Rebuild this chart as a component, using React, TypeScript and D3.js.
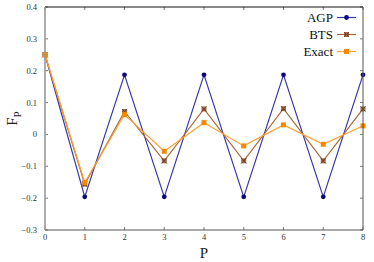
import React from 'react'
import * as d3 from 'd3'

const P = [0, 1, 2, 3, 4, 5, 6, 7, 8]
const AGP = [0.25, -0.196, 0.187, -0.196, 0.187, -0.196, 0.187, -0.196, 0.187]
const BTS = [0.25, -0.156, 0.072, -0.083, 0.08, -0.083, 0.081, -0.083, 0.08]
const EXACT = [0.25, -0.151, 0.062, -0.053, 0.037, -0.036, 0.03, -0.031, 0.027]
const Y_TICKS = [-0.3, -0.2, -0.1, 0, 0.1, 0.2, 0.3, 0.4]

const SERIES = [
  { name: 'AGP', values: AGP, line: '#3838a8', mark: '#0a0a80', shape: 'circle' },
  { name: 'BTS', values: BTS, line: '#a8673a', mark: '#7a3f1c', shape: 'cross' },
  { name: 'Exact', values: EXACT, line: '#ffa030', mark: '#f58a00', shape: 'square' },
]

const W = 374
const H = 262
const M = { top: 7, right: 11, bottom: 32, left: 45 }
const FONT = '"Liberation Serif", "DejaVu Serif", serif'

function fmt(v: number) {
  if (v === 0) return '0'
  return d3.format('.1f')(v).replace('-', '\u2212')
}

function Marker({ shape, x, y, color }: { shape: string; x: number; y: number; color: string }) {
  if (shape === 'circle') return <circle cx={x} cy={y} r={2.4} fill={color} />
  if (shape === 'square') return <rect x={x - 2.5} y={y - 2.5} width={5} height={5} fill={color} />
  return (
    <g>
      <rect x={x - 2.5} y={y - 2.5} width={5} height={5} fill={color} opacity={0.75} />
      <path d={`M${x - 2.5},${y - 2.5}L${x + 2.5},${y + 2.5}M${x - 2.5},${y + 2.5}L${x + 2.5},${y - 2.5}`} stroke={color} strokeWidth={1} />
    </g>
  )
}

export default function App() {
  const x = d3.scaleLinear().domain([0, 8]).range([M.left, W - M.right])
  const y = d3.scaleLinear().domain([-0.3, 0.4]).range([H - M.bottom, M.top])
  const line = d3.line<number>().x((_, i) => x(P[i])).y((d) => y(d))
  const x0 = x.range()[0]
  const x1 = x.range()[1]
  const y0 = y.range()[0]
  const y1 = y.range()[1]

  return (
    <svg width={W} height={H} style={{ position: 'absolute', left: 0, top: 0, background: '#fff' }} fontFamily={FONT}>
      {/* ticks */}
      {P.map((p) => (
        <g key={'xt' + p} stroke="#555" strokeWidth={0.8}>
          <line x1={x(p)} x2={x(p)} y1={y0} y2={y0 - 3} />
          <line x1={x(p)} x2={x(p)} y1={y1} y2={y1 + 3} />
        </g>
      ))}
      {Y_TICKS.map((t) => (
        <g key={'yt' + t} stroke="#555" strokeWidth={0.8}>
          <line x1={x0} x2={x0 + 3} y1={y(t)} y2={y(t)} />
          <line x1={x1} x2={x1 - 3} y1={y(t)} y2={y(t)} />
        </g>
      ))}
      {/* series */}
      {SERIES.map((s) => (
        <g key={s.name}>
          <path d={line(s.values) || ''} fill="none" stroke={s.line} strokeWidth={1.2} />
          {s.values.map((v, i) => (
            <Marker key={i} shape={s.shape} x={x(P[i])} y={y(v)} color={s.mark} />
          ))}
        </g>
      ))}
      {/* frame */}
      <line x1={x0} x2={x1} y1={y1} y2={y1} stroke="#111" strokeWidth={1} />
      <line x1={x1} x2={x1} y1={y1} y2={y0} stroke="#555" strokeWidth={1} />
      <line x1={x0} x2={x1} y1={y0} y2={y0} stroke="#555" strokeWidth={1.2} />
      <line x1={x0} x2={x0} y1={y1} y2={y0} stroke="#999" strokeWidth={1.6} />
      {/* tick labels */}
      {P.map((p) => (
        <text key={'xl' + p} x={x(p)} y={y0 + 10} fontSize={8.5} textAnchor="middle" fill="#333">
          {p}
        </text>
      ))}
      {Y_TICKS.map((t) => (
        <text key={'yl' + t} x={x0 - 8} y={y(t) + 3} fontSize={8.5} textAnchor="end" fill="#333">
          {fmt(t)}
        </text>
      ))}
      {/* axis titles */}
      <text x={(x0 + x1) / 2} y={H - 4} fontSize={15} textAnchor="middle" fill="#222">P</text>
      <text transform={`translate(17,${(y0 + y1) / 2}) rotate(-90)`} fontSize={15} textAnchor="middle" fill="#222">
        F<tspan fontSize={11} dy={4}>P</tspan>
      </text>
      {/* legend */}
      {SERIES.map((s, i) => {
        const ly = 17.5 + i * 17
        return (
          <g key={'lg' + s.name}>
            <text x={333} y={ly + 4.5} fontSize={13} textAnchor="end" fill="#111">{s.name}</text>
            <line x1={337} x2={356} y1={ly} y2={ly} stroke={s.line} strokeWidth={1.2} />
            <Marker shape={s.shape} x={346.5} y={ly} color={s.mark} />
          </g>
        )
      })}
    </svg>
  )
}
